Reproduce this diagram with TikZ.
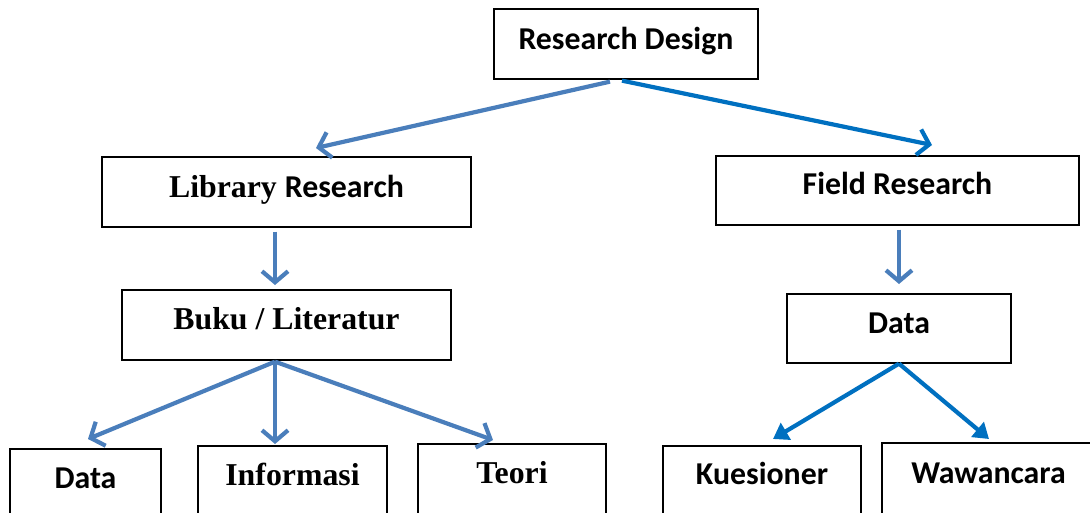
\documentclass[tikz,border=0pt]{standalone}
\usepackage{fontspec}
\setmainfont{Liberation Serif}
\newfontfamily\calfnt{Carlito}
\newfontfamily\tnrfnt{Liberation Serif}
\usetikzlibrary{arrows.meta}
\definecolor{lblue}{HTML}{4A7EBB}
\definecolor{dblue}{HTML}{0070C0}
\tikzset{
  cell/.style={draw=black, line width=1.3pt, inner sep=0pt, anchor=base, font=\fontsize{31.8}{34}\selectfont\bfseries},
  arrL/.style={draw=lblue, line width=4.2pt, -{Straight Barb[length=11pt, width=26pt]}},
  arrR/.style={draw=dblue, line width=4.2pt, -{Straight Barb[length=11pt, width=26pt]}},
  arrF/.style={draw=dblue, line width=4.2pt, -{Triangle[length=15pt, width=19pt]}},
}
\begin{document}
\begin{tikzpicture}[x=1pt,y=1pt]
\useasboundingbox (0,0) rectangle (1090,-513);
\clip (0,0) rectangle (1090,-513);
% nodes
\node[cell, minimum width=264pt, text height=41pt, text depth=29pt] (rd) at (626,-50) {\calfnt Research Design};
\node[cell, minimum width=369pt, text height=41pt, text depth=29pt] (lr) at (286.5,-198) {\tnrfnt Library \calfnt Research};
\node[cell, minimum width=363pt, text height=39pt, text depth=30pt] (fr) at (897.5,-195) {\calfnt Field Research};
\node[cell, minimum width=329pt, text height=39pt, text depth=31pt] (bk) at (286.5,-329) {\tnrfnt Buku / Literatur};
\node[cell, minimum width=224pt, text height=39pt, text depth=30pt] (dr) at (899,-333) {\calfnt Data};
\node[cell, minimum width=151pt, text height=39pt, text depth=40pt] (dl) at (85.5,-488) {\calfnt Data};
\node[cell, minimum width=189pt, text height=39pt, text depth=40pt] (inf) at (292.5,-485) {\tnrfnt Informasi};
\node[cell, minimum width=188pt, text height=39pt, text depth=40pt] (teo) at (512,-483) {\tnrfnt Teori};
\node[cell, minimum width=198pt, text height=38pt, text depth=40pt] (kue) at (762,-484) {\calfnt Kuesioner};
\node[cell, minimum width=213pt, text height=40pt, text depth=40pt] (waw) at (988.5,-483) {\calfnt Wawancara};
% arrow end points
\coordinate (tLR) at (316,-148);
\coordinate (tFR) at (932,-145);
\coordinate (tBK) at (275,-285);
\coordinate (tDR) at (899,-284);
\coordinate (tDL) at (88,-439);
\coordinate (tINF) at (275,-444);
\coordinate (tTEO) at (493,-440);
\coordinate (tKUE) at (773,-439);
\coordinate (tWAW) at (989,-439);
% connectors
\draw[arrL] ([xshift=-16pt,yshift=-2pt]rd.south) -- (tLR);
\draw[arrR] ([xshift=-4pt,yshift=-1pt]rd.south) -- (tFR);
\draw[arrL] ([xshift=-11.5pt,yshift=-4pt]lr.south) -- (tBK);
\draw[arrL] ([xshift=1.5pt,yshift=-4pt]fr.south) -- (tDR);
\draw[arrL] ([xshift=-11.5pt,yshift=-1pt]bk.south) -- (tDL);
\draw[arrL] ([xshift=-11.5pt,yshift=-1pt]bk.south) -- (tINF);
\draw[arrL] ([xshift=-11.5pt,yshift=-1pt]bk.south) -- (tTEO);
\draw[arrF] (dr.south) -- (tKUE);
\draw[arrF] (dr.south) -- (tWAW);
\end{tikzpicture}
\end{document}
